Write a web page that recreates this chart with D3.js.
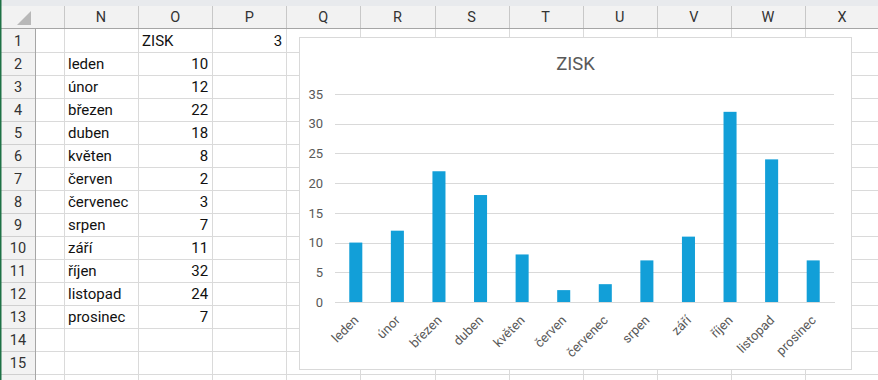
<!DOCTYPE html>
<html><head><meta charset="utf-8">
<script src="https://cdn.jsdelivr.net/npm/d3@7"></script>
<style>
html,body{margin:0;padding:0;background:#fff;}
svg{display:block;}
</style></head>
<body>
<svg id="c" width="878" height="380"></svg>
<script>
// ---- data ----
const months = ["leden","únor","březen","duben","květen","červen","červenec","srpen","září","říjen","listopad","prosinec"];
const zisk = [10,12,22,18,8,2,3,7,11,32,24,7];
const yTicks = [0,5,10,15,20,25,30,35];
const colLetters = ["N","O","P","Q","R","S","T","U","V","W","X"];
const rowNumbers = [1,2,3,4,5,6,7,8,9,10,11,12,13,14,15];
const chartTitle = "ZISK";
const headerCell = "ZISK";
const extraCell = 3;

const svg = d3.select("#c");
const W = 878, H = 380;
const FONT = "Roboto, 'Liberation Sans', Arial, sans-serif";

// ---- spreadsheet grid ----
const topStrip = 6, headBottom = 28.5, rowH = 23;
const rowHdrW = 35, colStart = 64, colW = 74.1;
const rowY = d3.scaleLinear().domain([0, 1]).range([headBottom, headBottom + rowH]); // row index -> top
const colX = d3.scaleLinear().domain([0, 1]).range([colStart, colStart + colW]);

svg.append("rect").attr("width", W).attr("height", H).attr("fill", "#fff");
// top strip
svg.append("rect").attr("x",0).attr("y",0).attr("width",W).attr("height",topStrip).attr("fill","#e8eaed");
// header row
svg.append("rect").attr("x",0).attr("y",topStrip).attr("width",W).attr("height",headBottom-topStrip).attr("fill","#f2f2f2");
// row header column
svg.append("rect").attr("x",0).attr("y",headBottom).attr("width",rowHdrW).attr("height",H-headBottom).attr("fill","#f2f2f2");

// gridlines (cells)
const gl = svg.append("g").attr("stroke","#dadada").attr("stroke-width",1).attr("shape-rendering","crispEdges");
for (let i = 0; i <= rowNumbers.length; i++) {
  const y = Math.round(rowY(i+1)) + 0.5;
  gl.append("line").attr("x1",rowHdrW).attr("x2",W).attr("y1",y).attr("y2",y);
}
const colBounds = d3.range(0, colLetters.length + 1).map(i => colX(i));
[colStart, ...colBounds].forEach(x => {
  const xx = Math.round(x) + 0.5;
  gl.append("line").attr("x1",xx).attr("x2",xx).attr("y1",headBottom).attr("y2",H);
});
// row header lines
const rh = svg.append("g").attr("stroke","#cfcfcf").attr("shape-rendering","crispEdges");
for (let i = 0; i <= rowNumbers.length; i++) {
  const y = Math.round(rowY(i+1)) + 0.5;
  rh.append("line").attr("x1",0).attr("x2",rowHdrW).attr("y1",y).attr("y2",y);
}
// column header separators
const ch = svg.append("g").attr("stroke","#c8c8c8").attr("shape-rendering","crispEdges");
[colStart, ...colBounds].forEach(x => {
  const xx = Math.round(x) + 0.5;
  ch.append("line").attr("x1",xx).attr("x2",xx).attr("y1",topStrip).attr("y2",headBottom);
});
// header bottom border & row header right border
svg.append("line").attr("x1",0).attr("x2",W).attr("y1",28.5).attr("y2",28.5).attr("stroke","#a6a6a6").attr("shape-rendering","crispEdges");
svg.append("line").attr("x1",rowHdrW+0.5).attr("x2",rowHdrW+0.5).attr("y1",headBottom).attr("y2",H).attr("stroke","#a6a6a6").attr("shape-rendering","crispEdges");
// select-all triangle
svg.append("path").attr("d","M31,11 L31,25 L17,25 Z").attr("fill","#b8b8b8");
// left green line
svg.append("rect").attr("x",0).attr("y",0).attr("width",1.5).attr("height",H).attr("fill","#1e7145");

// column letters
svg.append("g").selectAll("text").data(colLetters).join("text")
  .attr("x",(d,i)=>colX(i+0.5)).attr("y",22)
  .attr("text-anchor","middle").attr("font-family",FONT).attr("font-size",14.5).attr("fill","#333")
  .text(d=>d);
// row numbers
svg.append("g").selectAll("text").data(rowNumbers).join("text")
  .attr("x",18).attr("y",(d,i)=>rowY(i+1)-6)
  .attr("text-anchor","middle").attr("font-family",FONT).attr("font-size",14.5).attr("fill","#333")
  .text(d=>d);

// cell contents
const cells = svg.append("g").attr("font-family",FONT).attr("font-size",15).attr("fill","#111");
cells.append("text").attr("x",colX(1)+4).attr("y",rowY(1)-6).text(headerCell);
cells.append("text").attr("x",colX(3)-4).attr("y",rowY(1)-6).attr("text-anchor","end").text(extraCell);
cells.selectAll("text.m").data(months).join("text").attr("class","m")
  .attr("x",colX(0)+4).attr("y",(d,i)=>rowY(i+2)-6).text(d=>d);
cells.selectAll("text.v").data(zisk).join("text").attr("class","v")
  .attr("x",colX(2)-4).attr("y",(d,i)=>rowY(i+2)-6).attr("text-anchor","end").text(d=>d);

// ---- chart ----
const cx0 = 299.5, cy0 = 37.5, cw = 552, chh = 332;
svg.append("rect").attr("x",cx0).attr("y",cy0).attr("width",cw).attr("height",chh)
  .attr("fill","#fff").attr("stroke","#d9d9d9").attr("stroke-width",1);

const plot = {l:335, r:834, t:94, b:302};
const x = d3.scaleBand().domain(months).range([plot.l, plot.r]).paddingInner(0).paddingOuter(0);
const y = d3.scaleLinear().domain([0,35]).range([plot.b, plot.t]);
const barW = x.bandwidth() / 3.19;

svg.append("text").attr("x",cx0+cw/2).attr("y",70).attr("text-anchor","middle")
  .attr("font-family",FONT).attr("font-size",18.5).attr("fill","#595959").text(chartTitle);

// y axis (gridlines + labels)
const yAxis = d3.axisLeft(y).tickValues(yTicks).tickSize(-(plot.r-plot.l)).tickPadding(12);
const yg = svg.append("g").attr("transform",`translate(${plot.l},0)`).call(yAxis);
yg.select(".domain").remove();
yg.selectAll(".tick line").attr("stroke","#d9d9d9").attr("shape-rendering","crispEdges");
yg.selectAll(".tick text").attr("font-family",FONT).attr("font-size",13).attr("fill","#595959");

// bars
svg.append("g").selectAll("rect").data(zisk).join("rect")
  .attr("x",(d,i)=>x(months[i]) + x.bandwidth()/2 - barW/2)
  .attr("y",d=>y(d)).attr("width",barW).attr("height",d=>y(0)-y(d))
  .attr("fill","#129fd8");

// x axis
const xAxis = d3.axisBottom(x).tickSize(0).tickPadding(0);
const xg = svg.append("g").attr("transform",`translate(0,${plot.b})`).call(xAxis);
xg.select(".domain").attr("stroke","#d9d9d9").attr("shape-rendering","crispEdges");
xg.selectAll(".tick text")
  .attr("font-family",FONT).attr("font-size",13).attr("fill","#595959")
  .attr("text-anchor","end").attr("dy",0).attr("y",0)
  .attr("transform","translate(3.5,19) rotate(-45)");
</script>
</body></html>
